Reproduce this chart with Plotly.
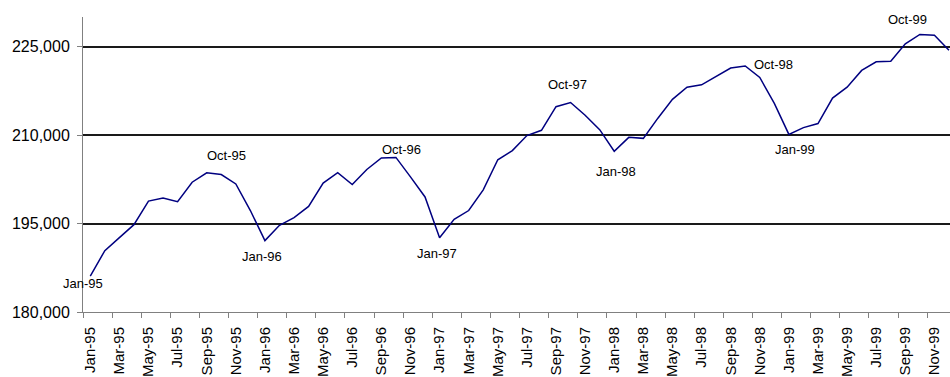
import plotly.graph_objects as go

# Monthly series, Jan-95 .. Dec-99
months = [f"{m}-{y}" for y in ["95", "96", "97", "98", "99"]
          for m in ["Jan", "Feb", "Mar", "Apr", "May", "Jun",
                    "Jul", "Aug", "Sep", "Oct", "Nov", "Dec"]]

values_1995 = [186100, 190400, 192600, 194800, 198800, 199300,
               198700, 202000, 203600, 203300, 201700, 197200]
values_1996 = [192100, 194700, 196000, 197900, 201850, 203600,
               201600, 204150, 206100, 206200, 202900, 199500]
values_1997 = [192600, 195700, 197200, 200700, 205800, 207350,
               209900, 210800, 214800, 215500, 213350, 210900]
values_1998 = [207250, 209600, 209430, 212850, 216050, 218100,
               218500, 219950, 221350, 221700, 219750, 215350]
values_1999 = [210100, 211250, 211950, 216250, 218100, 220950,
               222400, 222500, 225450, 227050, 226900, 224350]
values = values_1995 + values_1996 + values_1997 + values_1998 + values_1999

# Months that carry a text label
labelled = ["Jan-95", "Oct-95", "Jan-96", "Oct-96", "Jan-97",
            "Oct-97", "Jan-98", "Oct-98", "Jan-99", "Oct-99"]
# Pixel offsets of each label from its point
label_offsets = [(-7, -7), (5.5, 19), (-3, -16), (5.5, 8), (-3, -16),
                 (-3.3, 18.3), (1.6, -20.4), (28.7, 1), (6.3, -15.4), (-12.2, 14.7)]

y_ticks = [180000, 195000, 210000, 225000]

idx = list(range(len(months)))
FONT = "Arial, Liberation Sans, sans-serif"

fig = go.Figure()
fig.add_trace(go.Scatter(
    x=idx, y=values, mode="lines",
    line=dict(color="#000080", width=1.5),
    hoverinfo="skip", showlegend=False,
))

for name, (dx, dy) in zip(labelled, label_offsets):
    i = months.index(name)
    fig.add_annotation(
        x=i, y=values[i], text=name, showarrow=False,
        xanchor="center", yanchor="middle", xshift=dx, yshift=dy,
        font=dict(family=FONT, size=13, color="#000000"),
    )

fig.update_layout(
    width=950, height=377,
    margin=dict(l=83, r=0, t=17, b=63),
    paper_bgcolor="white", plot_bgcolor="white",
    font=dict(family=FONT, color="#000000"),
)

fig.update_xaxes(
    range=[-0.5, 59.07],
    tickmode="array",
    tickvals=idx[::2], ticktext=months[::2],
    tickangle=-90, ticks="", showgrid=False, zeroline=False,
    ticklabelstandoff=8,
    tickfont=dict(size=15, family=FONT, color="#000000"),
    showline=True, linecolor="#808080", linewidth=1,
    minor=dict(tickmode="array", tickvals=[i - 0.5 for i in idx[::2]],
               ticks="outside", ticklen=5, tickcolor="#808080",
               tickwidth=1, showgrid=False),
)

fig.update_yaxes(
    range=[180000, 230000],
    tickmode="array", tickvals=y_ticks,
    tickformat=",d",
    ticks="outside", ticklen=5, tickcolor="#808080", tickwidth=1,
    ticklabelstandoff=4,
    tickfont=dict(size=16, family=FONT, color="#000000"),
    showgrid=True, gridcolor="#1a1a1a", gridwidth=1.5,
    zeroline=False,
    showline=True, linecolor="#808080", linewidth=1,
)

fig.write_html("out.html")
